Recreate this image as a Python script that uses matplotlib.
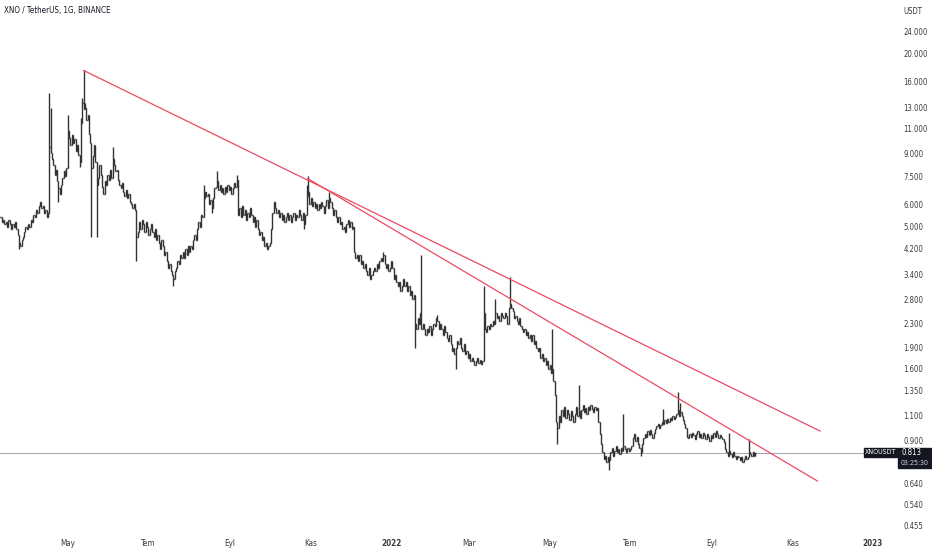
"""
XNO / TetherUS daily bars with two falling trend lines (log price scale).
"""

import pandas as pd
import numpy as np
import matplotlib
matplotlib.use("Agg")
import matplotlib.pyplot as plt
import matplotlib.dates as mdates
from matplotlib.collections import LineCollection
from matplotlib.patches import Rectangle
import warnings
warnings.filterwarnings("ignore")

plt.rcParams["font.family"] = ["DejaVu Sans"]
plt.rcParams["font.stretch"] = "condensed"

# daily closes, first bar = 2021-03-11
start_date = "2021-03-11"
closes = [
    5.4, 5.2, 5.3, 5.1, 5.2, 5.0, 5.3, 5.1, 4.9, 5.1,
    5.0, 5.2, 4.9, 4.7, 4.4, 4.3, 4.5, 4.6, 4.8, 5.0,
    4.9, 5.1, 5.0, 5.3, 5.2, 5.5, 5.4, 5.7, 5.6, 5.9,
    6.1, 5.8, 5.9, 5.6, 5.7, 5.4, 5.6,
    9.5, 9.0,
    8.6, 8.2, 7.6, 7.9, 7.2, 6.8, 6.5, 7.0, 7.4, 7.8, 7.5,
    8.0, 10.8, 10.2, 9.6, 10.4, 9.8, 10.1, 9.2, 9.6, 8.9, 8.4,
    11.5, 13.5, 12.8,
    13.0, 11.8, 12.2, 10.5, 9.8, 8.0, 8.8, 9.6, 8.4, 7.0,
    7.4, 8.2, 7.6, 6.9, 6.5, 7.2, 7.0, 7.6, 7.3, 7.9, 7.4, 8.6,
    8.2, 7.8, 7.9, 7.3, 7.0, 6.8, 7.1, 6.6, 6.4, 6.7,
    6.3, 6.5, 6.1, 6.0, 5.8, 6.0, 5.7, 4.6,
    4.8, 5.2, 4.9, 5.3, 5.1, 4.8, 5.2, 5.0, 4.7, 4.9, 5.1, 4.8,
    4.6, 4.9, 4.5, 4.7, 4.4, 4.2, 4.5, 4.3,
    4.0, 4.1, 3.8, 3.6, 3.7, 3.5, 3.4, 3.3, 3.5,
    3.6, 3.8, 3.7, 4.0, 3.9, 4.1, 3.9, 4.2, 4.0, 4.3, 4.1, 4.3, 4.2, 4.5, 4.7, 4.5, 4.9, 5.2,
    5.0, 5.5, 5.4, 6.3, 6.6,
    6.4, 6.5, 6.0, 6.2, 5.8, 6.3, 6.8, 6.9, 7.2, 6.7, 7.0, 6.6, 6.8,
    6.5, 6.9, 6.6, 7.0, 6.7, 6.9, 6.5, 6.8, 7.1, 6.9, 7.3, 5.5,
    5.8, 5.4, 5.9, 5.5, 5.7, 5.3, 5.6, 5.4, 5.8, 5.5, 5.2, 5.4, 5.0, 5.3, 4.9, 4.7,
    4.8, 4.5, 4.6, 4.3, 4.4, 4.2, 4.3, 4.4,
    4.9, 5.6, 6.1, 5.8, 5.6, 5.7,
    5.4, 5.6, 5.3, 5.5, 5.2, 5.4, 5.6, 5.3, 5.5, 5.2,
    5.4, 5.6, 5.3, 5.5, 5.4, 5.7, 5.5, 5.3, 5.6, 5.1, 5.5,
    6.4, 6.6,
    6.0, 6.3, 5.9, 6.1, 5.8, 6.0, 5.7, 6.0, 5.8, 6.1, 5.9, 5.6, 5.9, 6.2, 5.8, 6.3, 6.1,
    5.8, 5.5, 5.7, 5.4, 5.2, 5.4, 5.1, 5.2, 4.9, 5.0, 4.8, 5.1, 5.3, 5.0, 5.2, 4.9, 5.0,
    4.1, 3.9, 4.0,
    3.8, 4.0, 3.7, 3.8, 3.6, 3.7, 3.5, 3.4, 3.6, 3.3, 3.4, 3.5,
    3.6, 3.5, 3.7, 3.6, 3.8, 3.9, 3.8, 4.0, 3.7, 3.6, 3.7, 3.5, 3.6, 3.8, 3.6,
    3.3, 3.4, 3.2, 3.1, 3.2, 3.0, 3.1, 3.3, 3.1, 3.2, 3.0, 3.1, 2.9, 3.0, 2.8, 2.9,
    2.3, 2.2, 2.4, 2.3, 2.5, 2.2, 2.3,
    2.2, 2.1, 2.2, 2.15, 2.25, 2.1, 2.2, 2.3, 2.25, 2.4, 2.35, 2.2, 2.3, 2.2, 2.1, 2.25, 2.15,
    2.05, 2.0, 2.1, 1.95, 1.85, 1.9, 1.8, 1.9, 2.0, 1.95, 2.05, 1.9, 1.85,
    1.95, 1.8, 1.85, 1.75, 1.8, 1.7, 1.75, 1.7, 1.65, 1.7, 1.75, 1.68, 1.72, 1.66, 1.7,
    2.5, 2.2,
    2.15, 2.25, 2.2, 2.3, 2.25, 2.35, 2.3, 2.5, 2.4, 2.45, 2.35, 2.5, 2.45, 2.4, 2.5, 2.45, 2.3, 2.6,
    2.7,
    2.6, 2.55, 2.4, 2.45, 2.35, 2.3, 2.4, 2.25, 2.2, 2.15, 2.2, 2.1, 2.15, 2.05,
    2.1, 2.0, 2.1, 1.95, 2.0, 1.9, 1.85, 1.9, 1.75, 1.8, 1.7, 1.75, 1.65, 1.7, 1.6,
    1.65, 1.55, 1.6, 1.45, 1.3,
    1.05, 1.0, 1.1,
    1.05, 1.15, 1.1, 1.18, 1.08, 1.15, 1.12, 1.06, 1.14, 1.1,
    1.05, 1.12, 1.18, 1.1, 1.14, 1.08, 1.15, 1.2, 1.13, 1.17,
    1.12, 1.18, 1.15, 1.2, 1.16, 1.13, 1.18, 1.15, 1.17,
    1.05, 0.95, 0.88, 0.82, 0.78, 0.8, 0.76, 0.79,
    0.77, 0.82, 0.85, 0.8, 0.83, 0.86, 0.82, 0.84, 0.81, 0.85, 0.83, 0.86, 0.84, 0.82,
    0.85, 0.83, 0.84, 0.86, 0.92, 0.95, 0.9, 0.93, 0.88, 0.85, 0.82, 0.88,
    0.92, 0.95, 0.93, 0.97, 0.94, 0.98, 0.95, 0.92, 0.96, 0.99, 1.01, 1.03, 1.0, 1.02, 1.05, 1.03, 1.06,
    1.04, 1.07, 1.05, 1.08, 1.06, 1.1, 1.07, 1.09, 1.12, 1.15, 1.1, 1.13,
    1.1, 1.06, 1.03, 1.0, 0.93, 0.92, 0.95,
    0.93, 0.96, 0.94, 0.91, 0.95, 0.97, 0.93, 0.95, 0.92, 0.96,
    0.94, 0.91, 0.95, 0.93, 0.9, 0.94, 0.92, 0.96, 0.93, 0.97, 0.95, 0.92, 0.94,
    0.93, 0.91, 0.89, 0.84,
    0.82, 0.8, 0.83, 0.81, 0.79, 0.82, 0.8, 0.78, 0.8, 0.79, 0.77, 0.79, 0.76, 0.78, 0.8, 0.78,
    0.79, 0.82, 0.81, 0.8, 0.82, 0.8, 0.813,
]

# wicks that stick out beyond the open/close range (bar index -> price)
wick_highs = {37: 14.6, 38: 13.0, 51: 12.2, 61: 12.0, 62: 14.0, 63: 17.5, 64: 13.5,
              85: 9.5, 154: 7.0, 164: 7.8, 179: 7.6, 232: 7.0, 233: 7.5, 249: 6.6,
              290: 4.1, 319: 4.0, 331: 2.47, 366: 3.1, 375: 2.8, 386: 3.35, 418: 2.2,
              438: 1.41, 472: 1.12, 502: 1.16, 513: 1.33, 515: 1.22, 552: 0.96, 567: 0.91}
wick_lows = {14: 4.2, 44: 6.1, 60: 8.1, 69: 4.6, 73: 4.6, 103: 3.8, 131: 3.1,
             160: 5.6, 230: 4.9, 314: 1.9, 345: 1.6, 422: 0.88, 461: 0.715, 485: 0.8}

# trend lines (date, price) start -> end
trend_upper_dates = ["2021-05-13", "2022-11-22"]
trend_upper_prices = [17.5, 0.973]
trend_lower_dates = ["2021-10-30", "2022-11-20"]
trend_lower_prices = [7.35, 0.652]

price_ticks = [24, 20, 16, 13, 11, 9, 7.5, 6, 5, 4.2, 3.4, 2.8, 2.3, 1.9, 1.6,
               1.35, 1.1, 0.9, 0.64, 0.54, 0.455]
time_ticks = ["2021-05-01", "2021-07-01", "2021-09-01", "2021-11-01", "2022-01-01",
              "2022-03-01", "2022-05-01", "2022-07-01", "2022-09-01", "2022-11-01",
              "2023-01-01"]
time_labels = ["May", "Tem", "Eyl", "Kas", "2022", "Mar", "May", "Tem", "Eyl", "Kas", "2023"]

# build OHLC
c = np.array(closes)
o = np.concatenate([[c[0]], c[:-1]])
h = np.maximum(o, c)
l = np.minimum(o, c)
for k, v in wick_highs.items():
    h[k] = max(h[k], v)
for k, v in wick_lows.items():
    l[k] = min(l[k], v)
dates = pd.date_range(start_date, periods=len(c), freq="D")
x = mdates.date2num(dates)

fig = plt.figure(figsize=(9.32, 5.5), dpi=100)
fig.patch.set_facecolor("white")
ax = fig.add_axes([0, 18 / 550, 898 / 932, 532 / 550])
ax.set_yscale("log")
ax.set_ylim(0.4334, 30.77)
ax.set_xlim(x[0] - 0.3, x[0] + 680)

segs = []
tw = 0.7
for xi, oi, hi, li, ci in zip(x, o, h, l, c):
    segs.append([(xi, li), (xi, hi)])
    segs.append([(xi - tw, oi), (xi, oi)])
    segs.append([(xi, ci), (xi + tw, ci)])
ax.add_collection(LineCollection(segs, colors="#333333", linewidths=1.0))

ax.axhline(c[-1], color="#9598a1", linewidth=0.6, zorder=1)

red = "#ec4a62"
ax.plot(mdates.datestr2num(trend_upper_dates), trend_upper_prices, color=red, linewidth=0.9)
ax.plot(mdates.datestr2num(trend_lower_dates), trend_lower_prices, color=red, linewidth=0.9)

for s in ax.spines.values():
    s.set_visible(False)
ax.yaxis.tick_right()
ax.yaxis.set_minor_locator(matplotlib.ticker.NullLocator())
ax.set_yticks(price_ticks)
ax.set_yticklabels([f"{v:.3f}" for v in price_ticks])
ax.set_xticks(mdates.datestr2num(time_ticks))
ax.set_xticklabels(time_labels)
for lab in ax.get_xticklabels():
    if lab.get_text().startswith("20"):
        lab.set_fontweight("bold")
ax.tick_params(axis="y", length=0, pad=4, labelsize=5.6, labelcolor="#3a3a3a")
ax.tick_params(axis="x", length=0, pad=5, labelsize=5.8, labelcolor="#3a3a3a")

fig.text(4 / 932, 1 - 11 / 550, "XNO / TetherUS, 1G, BINANCE", fontsize=5.8,
         color="#131722", va="center", ha="left")
fig.text(903 / 932, 1 - 11 / 550, "USDT", fontsize=5.6, color="#3a3a3a", va="center", ha="left")

# last price tags
fig.patches.append(Rectangle((864 / 932, 1 - 457 / 550), 33 / 932, 9 / 550,
                             transform=fig.transFigure, color="#131722"))
fig.text(880.5 / 932, 1 - 452.5 / 550, "XNOUSDT", fontsize=5, color="white",
         ha="center", va="center")
fig.patches.append(Rectangle((898 / 932, 1 - 468 / 550), 33 / 932, 20 / 550,
                             transform=fig.transFigure, color="#131722"))
fig.text(901 / 932, 1 - 452.5 / 550, f"{c[-1]:.3f}", fontsize=5.6, color="white",
         ha="left", va="center")
fig.text(901 / 932, 1 - 463 / 550, "03:25:30", fontsize=5, color="#d1d4dc",
         ha="left", va="center")

fig.savefig("out.png", dpi=100)
print("Saved: out.png")
